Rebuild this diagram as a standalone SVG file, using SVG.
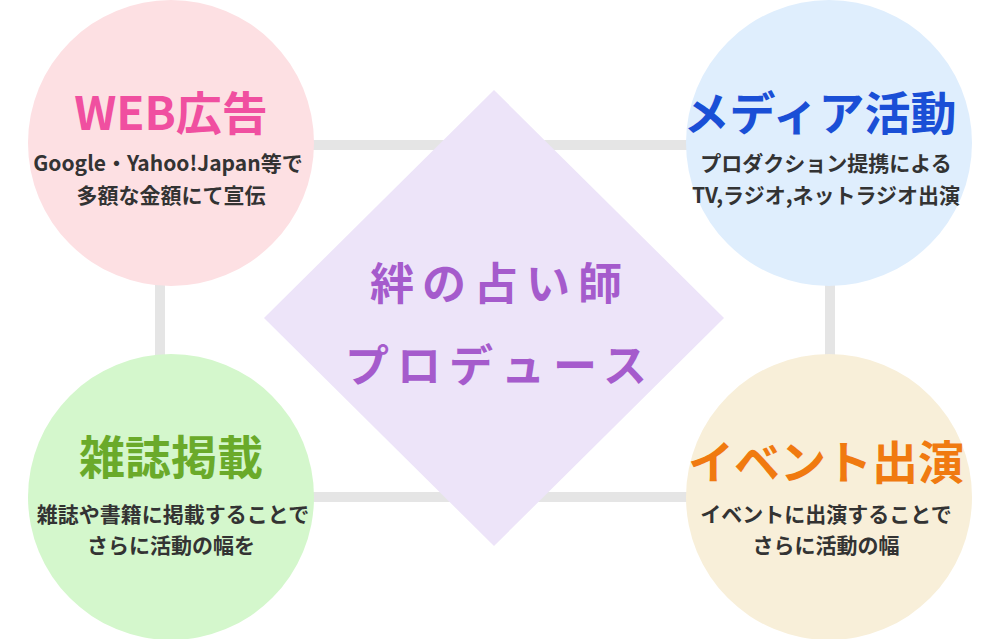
<svg xmlns="http://www.w3.org/2000/svg" width="1000" height="639" viewBox="0 0 1000 639">
<style>
text{font-family:"Noto Sans CJK JP","Noto Sans",sans-serif;text-anchor:middle;font-weight:bold}
.t{font-size:46px}
.s{font-size:21px;fill:#333}
.c{font-size:44px;fill:#a55bcc;letter-spacing:8px}
</style>
<g id="connectors" fill="none" stroke="#e5e5e5" stroke-width="10">
<rect x="160" y="145" width="670" height="352"/>
</g>
<g id="web"><circle cx="171" cy="143" r="143" fill="#fde0e3"/>
<text class="t" x="171" y="130" fill="#f04fa0">WEB広告</text>
<text class="s" x="168" y="171">Google・Yahoo!Japan等で</text>
<text class="s" x="171" y="203">多額な金額にて宣伝</text></g>
<g id="media"><circle cx="829" cy="143" r="143" fill="#dfeefd"/>
<text class="t" x="820" y="130" fill="#1a4fd6">メディア活動</text>
<text class="s" x="826" y="171">プロダクション提携による</text>
<text class="s" x="826" y="203">TV,ラジオ,ネットラジオ出演</text></g>
<g id="zasshi"><circle cx="171" cy="497" r="143" fill="#d4f7cc"/>
<text class="t" x="171" y="474" fill="#6aaa2a">雑誌掲載</text>
<text class="s" x="173" y="522">雑誌や書籍に掲載することで</text>
<text class="s" x="171" y="553">さらに活動の幅を</text></g>
<g id="event"><circle cx="829" cy="497" r="143" fill="#f8efd9"/>
<text class="t" x="826" y="479" fill="#f07a10">イベント出演</text>
<text class="s" x="826" y="522">イベントに出演することで</text>
<text class="s" x="826" y="553">さらに活動の幅</text></g>
<g id="center"><polygon points="494,90 724,318 494,546 264,318" fill="#ede4f9"/>
<text class="c" x="500" y="300">絆の占い師</text>
<text class="c" x="500" y="382">プロデュース</text></g>
</svg>
